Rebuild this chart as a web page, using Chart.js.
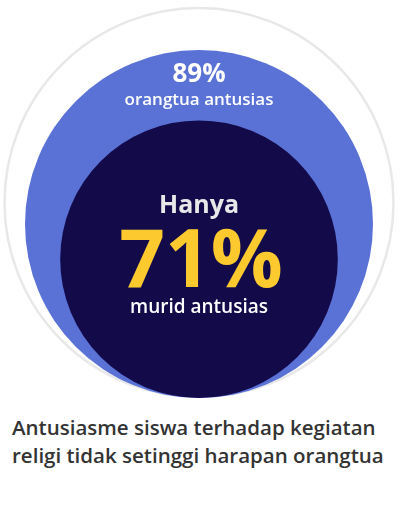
<!DOCTYPE html>
<html><head><meta charset="utf-8">
<script src="https://cdn.jsdelivr.net/npm/chart.js@4/dist/chart.umd.min.js"></script>
<style>
html,body{margin:0;padding:0;background:#fff;width:400px;height:506px;overflow:hidden}
#wrap{position:absolute;left:0;top:0;width:400px;height:400px}
#title{position:absolute;left:12px;top:413px;width:390px;font-family:'Open Sans',sans-serif;font-weight:600;font-size:20.5px;line-height:28px;color:#333;white-space:nowrap}
</style></head><body>
<div id="wrap"><canvas id="c" width="400" height="400"></canvas></div>
<div id="title">Antusiasme siswa terhadap kegiatan<br>religi tidak setinggi harapan orangtua</div>
<script>
// Data
const categories = ['Total', 'Orangtua antusias', 'Murid antusias'];
const percentages = [100, 89, 71];
const valueLabels = ['', '89%', '71%'];
const captions = ['', 'orangtua antusias', 'murid antusias'];
const prefixLabel = 'Hanya';

const fills = ['#ffffff', '#5a72d6', '#130a4a'];
const strokes = ['#e8e8e8', '#5a72d6', '#130a4a'];
const FONT = "'Open Sans', sans-serif";

const PXU = 1.955; // pixels per percentage unit
const yMin = -2 / PXU;
const xMin = -199 / PXU;

const labelPlugin = {
  id: 'circleLabels',
  afterDatasetsDraw(chart) {
    const c = chart.ctx, x = chart.scales.x, y = chart.scales.y;
    const cx = x.getPixelForValue(0);
    const blueTop = y.getPixelForValue(2 * percentages[1]);
    const darkC = y.getPixelForValue(percentages[2]);
    c.save();
    c.textAlign = 'center';
    c.textBaseline = 'alphabetic';
    c.fillStyle = '#ffffff';
    c.font = 'bold 26px ' + FONT;
    c.fillText(valueLabels[1], cx, blueTop + 32);
    c.font = '600 17px ' + FONT;
    c.fillText(captions[1], cx, blueTop + 55);
    c.fillStyle = '#e8e8e8';
    c.font = 'bold 25px ' + FONT;
    c.fillText(prefixLabel, cx, darkC - 46);
    c.fillStyle = '#fcc92f';
    c.font = 'bold 80px ' + FONT;
    c.fillText(valueLabels[2], cx + 2, darkC + 28);
    c.fillStyle = '#ffffff';
    c.font = '600 19px ' + FONT;
    c.fillText(captions[2], cx, darkC + 54);
    c.restore();
  }
};

function radiusFor(ctx) {
  const s = ctx.chart.scales.x;
  const r = Math.abs(s.getPixelForValue(percentages[ctx.dataIndex]) - s.getPixelForValue(0));
  return ctx.dataIndex === 0 ? r - 1 : r;
}

new Chart(document.getElementById('c'), {
  type: 'scatter',
  data: {
    labels: categories,
    datasets: [{
      data: percentages.map(p => ({ x: 0, y: p })),
      showLine: false,
      pointBackgroundColor: fills,
      pointBorderColor: strokes,
      pointBorderWidth: [2.5, 0, 0],
      pointRadius: radiusFor,
      pointHoverRadius: radiusFor,
      clip: false
    }]
  },
  options: {
    responsive: false,
    animation: false,
    devicePixelRatio: 1,
    events: [],
    layout: { padding: 0, autoPadding: false },
    scales: {
      x: { display: false, min: xMin, max: xMin + 400 / PXU },
      y: { display: false, min: yMin, max: yMin + 400 / PXU }
    },
    plugins: { legend: { display: false }, tooltip: { enabled: false } }
  },
  plugins: [labelPlugin]
});
</script>
</body></html>
